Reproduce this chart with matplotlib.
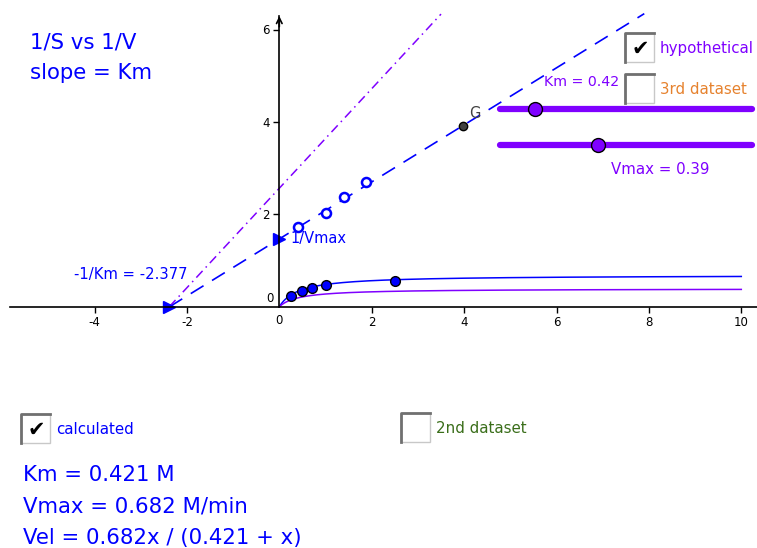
import numpy as np
import matplotlib
matplotlib.use('Agg')
import matplotlib.pyplot as plt
from matplotlib.patches import Rectangle

plt.rcParams['font.family'] = ['DejaVu Sans']
plt.rcParams['axes.unicode_minus'] = False

# 数据
S = [0.25, 0.5, 0.7, 1.0, 2.5]          # 底物浓度
V = [0.24, 0.35, 0.41, 0.48, 0.56]      # 反应速度
inv_S = [0.4, 1.0, 1.4, 1.88]           # 1/S
inv_V = [1.72, 2.02, 2.38, 2.70]        # 1/V
G = (3.98, 3.91)

Km_calc, Vmax_calc = 0.421, 0.682
x_intercept = -2.377                    # -1/Km (显示值)
Km_hyp, Vmax_hyp = 0.42, 0.39
Km_slider_max, Vmax_slider_max = 3.0, 1.0

xticks = [-4, -2, 2, 4, 6, 8, 10]
yticks = [2, 4, 6]

BLUE = '#0000ff'
PURPLE = '#7f00ff'
ORANGE = '#e6822e'
GREEN = '#3a6e1a'

W, H = 757, 548
fig = plt.figure(figsize=(W / 100, H / 100), dpi=100)
ax = fig.add_axes([0, 0, 1, 1])

# 像素 -> 数据坐标
ox, oy, s = 279.3, 306.7, 46.2
ax.set_xlim(-ox / s, (W - ox) / s)
ax.set_ylim(-(H - oy) / s, oy / s)

for side in ['top', 'right']:
    ax.spines[side].set_visible(False)
ax.spines['left'].set_position(('data', 0))
ax.spines['bottom'].set_position(('data', 0))
ax.spines['left'].set_bounds(0, 6.3)
ax.spines['bottom'].set_bounds(-5.83, 11)
ax.spines['left'].set_linewidth(1.2)
ax.spines['bottom'].set_linewidth(1.2)
ax.set_xticks(xticks)
ax.set_yticks(yticks)
ax.tick_params(direction='out', length=4, width=1, labelsize=8.5, pad=3)
ax.patch.set_alpha(0)
ax.annotate('', xy=(0, 6.35), xytext=(0, 6.0),
            arrowprops=dict(arrowstyle='->', lw=1.2, color='black'))
ax.text(-0.13, 0.04, '0', fontsize=8.5, ha='right', va='bottom')
ax.text(0, -0.15, '0', fontsize=8.5, ha='center', va='top')

# Michaelis-Menten 曲线
xs = np.linspace(0, 10, 400)
ax.plot(xs, Vmax_calc * xs / (Km_calc + xs), color=BLUE, lw=1.1)
ax.plot(xs, Vmax_hyp * xs / (Km_hyp + xs), color=PURPLE, lw=1.1)

# Lineweaver-Burk 直线
xl = np.linspace(x_intercept, 7.9, 50)
ax.plot(xl, Km_calc / Vmax_calc * xl + 1 / Vmax_calc, color=BLUE, lw=1.2,
        dashes=(9, 6))
xh = np.linspace(-1 / Km_hyp, 3.5, 50)
ax.plot(xh, Km_hyp / Vmax_hyp * xh + 1 / Vmax_hyp, color=PURPLE, lw=1.1,
        dashes=(6, 3, 1, 3))

# 截距标记
ax.plot([x_intercept], [0], marker='>', color=BLUE, ms=9, ls='none')
ax.plot([0], [1 / Vmax_calc], marker='>', color=BLUE, ms=9, ls='none')
ax.text(0.24, 1 / Vmax_calc, '1/Vmax', color=BLUE, fontsize=10.5, va='center')
ax.text(-4.45, 0.7, f'-1/Km = {x_intercept:.3f}', color=BLUE, fontsize=10.6, va='center')

# 数据点
ax.plot(inv_S, inv_V, 'o', mfc='white', mec=BLUE, mew=1.8, ms=6.5)
ax.plot(S, V, 'o', mfc=BLUE, mec='black', mew=1, ms=7)
ax.plot([G[0]], [G[1]], 'o', mfc='#404040', mec='black', mew=1, ms=6)
ax.text(G[0] + 0.12, G[1] + 0.17, 'G', color='#404040', fontsize=10.5)

# 滑块
sx0, sx1 = 4.78, 10.23
for val, vmax, yy in [(Km_hyp, Km_slider_max, 4.28), (Vmax_hyp, Vmax_slider_max, 3.50)]:
    ax.plot([sx0, sx1], [yy, yy], color=PURPLE, lw=4.5, solid_capstyle='round')
    ax.plot([sx0 + (sx1 - sx0) * val / vmax], [yy], 'o', mfc=PURPLE, mec='black',
            mew=1, ms=10)
ax.text(5.72, 4.86, f'Km = {Km_hyp:.2f}', color=PURPLE, fontsize=10.2, va='center')
ax.text(7.17, 2.96, f'Vmax = {Vmax_hyp:.2f}', color=PURPLE, fontsize=10.8, va='center')


def px(x, y):
    return x / W, 1 - y / H


def checkbox(x, y, checked, label, color, size=10.8):
    bw = 29
    fig.patches.append(Rectangle(px(x, y + bw), bw / W, bw / H, transform=fig.transFigure,
                                 facecolor='white', edgecolor='#c8c8c8', lw=1))
    fig.lines.append(plt.Line2D([px(x, y + bw)[0], px(x, y)[0], px(x + bw, y)[0]],
                                [px(x, y + bw)[1], px(x, y)[1], px(x + bw, y)[1]],
                                transform=fig.transFigure, color='#707070', lw=2))
    if checked:
        fig.text(*px(x + bw / 2 + 1, y + bw / 2 + 1), '\u2714', fontsize=15,
                 ha='center', va='center', color='black')
    fig.text(*px(x + bw + 6, y + bw / 2 + 1), label, color=color, fontsize=size,
             va='center')


checkbox(625, 33, True, 'hypothetical', PURPLE)
checkbox(625, 74, False, '3rd dataset', ORANGE)
checkbox(21, 414, True, 'calculated', BLUE)
checkbox(401, 413, False, '2nd dataset', GREEN)

fig.text(*px(30, 42), '1/S vs 1/V', color=BLUE, fontsize=15.3, va='center')
fig.text(*px(30, 73), 'slope = Km', color=BLUE, fontsize=15.3, va='center')
fig.text(*px(23, 475), f'Km = {Km_calc:.3f} M', color=BLUE, fontsize=15.3, va='center')
fig.text(*px(23, 507), f'Vmax = {Vmax_calc:.3f} M/min', color=BLUE, fontsize=15.3, va='center')
fig.text(*px(23, 538), f'Vel = {Vmax_calc:.3f}x / ({Km_calc:.3f} + x)', color=BLUE,
         fontsize=15.3, va='center')

fig.savefig('out.png', dpi=100)
